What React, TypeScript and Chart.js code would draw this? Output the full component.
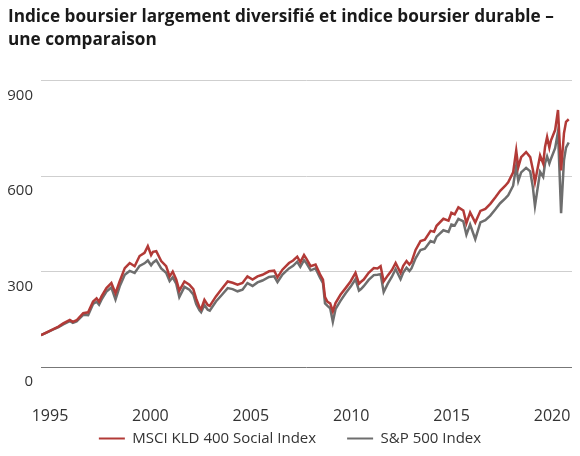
import React, { useEffect, useRef } from "react";
import Chart from "chart.js/auto";

// indexed to 100 at the start of 1995
const years = [
  1995.0, 1995.3, 1995.6, 1995.85, 1996.08, 1996.4, 1996.55, 1996.73, 1997.05, 1997.29,
  1997.53, 1997.7, 1997.82, 1997.94, 1998.18, 1998.42, 1998.62, 1998.82, 1999.07, 1999.31,
  1999.55, 1999.79, 2000.03, 2000.19, 2000.35, 2000.44, 2000.6, 2000.84, 2001.08, 2001.25,
  2001.4, 2001.57, 2001.72, 2001.97, 2002.21, 2002.4, 2002.54, 2002.7, 2002.78, 2002.94,
  2003.1, 2003.2, 2003.5, 2003.75, 2004.07, 2004.31, 2004.55, 2004.79, 2005.03, 2005.28,
  2005.52, 2005.76, 2006.08, 2006.33, 2006.49, 2006.73, 2007.05, 2007.25, 2007.45, 2007.6,
  2007.78, 2007.9, 2008.1, 2008.34, 2008.55, 2008.7, 2008.8, 2008.92, 2009.05, 2009.18,
  2009.31, 2009.55, 2009.8, 2010.04, 2010.28, 2010.45, 2010.55, 2010.68, 2010.92, 2011.17,
  2011.35, 2011.5, 2011.65, 2011.85, 2012.05, 2012.23, 2012.47, 2012.6, 2012.76, 2012.9,
  2013.0, 2013.2, 2013.44, 2013.65, 2013.93, 2014.1, 2014.22, 2014.55, 2014.8, 2014.94,
  2015.1, 2015.28, 2015.52, 2015.67, 2015.85, 2016.1, 2016.35, 2016.59, 2016.83, 2017.07,
  2017.31, 2017.56, 2017.7, 2017.94, 2018.09, 2018.19, 2018.33, 2018.57, 2018.77, 2018.9,
  2019.0, 2019.25, 2019.4, 2019.49, 2019.59, 2019.7, 2019.78, 2019.98, 2020.12, 2020.27,
  2020.41, 2020.51, 2020.64,
];

const msciKld400 = [
  100, 110, 119, 127, 137, 148, 142, 147, 169, 172,
  206, 216, 205, 222, 248, 264, 232, 269, 311, 327,
  317, 349, 359, 380, 352, 362, 364, 333, 317, 285,
  300, 275, 240, 269, 259, 245, 215, 188, 182, 211,
  195, 192, 222, 243, 269, 265, 259, 264, 285, 275,
  285, 290, 301, 303, 282, 306, 327, 335, 347, 330,
  352, 340, 317, 322, 292, 275, 220, 205, 200, 175,
  201, 227, 248, 269, 296, 262, 268, 275, 296, 311,
  310, 317, 269, 288, 305, 327, 296, 318, 333, 322,
  330, 368, 396, 400, 428, 425, 444, 466, 460, 485,
  480, 502, 492, 452, 486, 454, 491, 497, 513, 533,
  554, 570, 581, 612, 681, 628, 660, 676, 660, 620,
  581, 665, 640, 692, 723, 690, 713, 745, 808, 618,
  735, 771, 779,
];

const sp500 = [
  100, 109, 118, 125, 134, 144, 139, 143, 164, 163,
  198, 205, 196, 212, 237, 250, 212, 253, 290, 302,
  296, 318, 326, 335, 320, 328, 336, 310, 296, 270,
  282, 262, 220, 252, 243, 228, 198, 178, 172, 195,
  180, 177, 206, 224, 248, 245, 238, 243, 264, 255,
  266, 272, 283, 285, 267, 291, 310, 318, 331, 315,
  336, 326, 304, 310, 282, 264, 200, 192, 185, 142,
  182, 208, 232, 252, 276, 240, 245, 254, 274, 289,
  290, 292, 236, 262, 284, 308, 276, 297, 312, 302,
  310, 342, 368, 372, 396, 392, 410, 430, 425, 448,
  445, 466, 458, 416, 448, 402, 455, 462, 476, 495,
  515, 530, 540, 570, 632, 585, 612, 626, 615, 565,
  506, 614, 598, 640, 662, 640, 655, 688, 740, 484,
  650, 690, 706,
];

const tickYears = [1995, 2000, 2005, 2010, 2015, 2020];
const valueTicks = [0, 300, 600, 900];

const RED = "#b23a37";
const GRAY = "#6e6e6e";
const FONT = "'Open Sans', 'DejaVu Sans', sans-serif";

const App: React.FC = () => {
  const chartRef = useRef<HTMLCanvasElement | null>(null);
  const chartInstance = useRef<Chart | null>(null);

  useEffect(() => {
    if (!chartRef.current) return;
    const ctx = chartRef.current.getContext("2d");
    if (!ctx) return;

    chartInstance.current = new Chart(ctx, {
      type: "line",
      data: {
        datasets: [
          {
            label: "MSCI KLD 400 Social Index",
            data: years.map((x, i) => ({ x, y: msciKld400[i] })),
            borderColor: RED,
            backgroundColor: RED,
            borderWidth: 2.5,
            pointRadius: 0,
            xAxisID: "xData",
          },
          {
            label: "S&P 500 Index",
            data: years.map((x, i) => ({ x, y: sp500[i] })),
            borderColor: GRAY,
            backgroundColor: GRAY,
            borderWidth: 2.5,
            pointRadius: 0,
            xAxisID: "xData",
          },
        ],
      },
      options: {
        animation: false,
        responsive: true,
        maintainAspectRatio: false,
        layout: { padding: { left: 8, right: 8, top: 0, bottom: 0 } },
        scales: {
          // axis that only carries the year labels (mirrored so they are not clipped)
          x: {
            type: "linear",
            min: 1994.553,
            max: 2020.994,
            grid: { display: false, drawTicks: false },
            border: { display: false },
            afterBuildTicks: (axis: any) => {
              axis.ticks = tickYears.map((v) => ({ value: v }));
            },
            afterFit: (axis: any) => {
              axis.height = 33;
            },
            ticks: {
              mirror: true,
              padding: -59.5,
              autoSkip: false,
              maxRotation: 0,
              color: "#333",
              font: { family: FONT, size: 16 },
              callback: (v: any) => String(v),
            },
          },
          xData: {
            type: "linear",
            display: false,
            min: 1995,
            max: 2020.8,
          },
          y: {
            min: 0,
            max: 900,
            afterBuildTicks: (axis: any) => {
              axis.ticks = valueTicks.map((v) => ({ value: v }));
            },
            afterFit: (axis: any) => {
              axis.width = 33;
            },
            grid: {
              drawTicks: false,
              color: (c: any) => (c.tick && c.tick.value === 0 ? "#777" : "#cfcfcf"),
            },
            border: { display: false },
            ticks: {
              padding: 8,
              labelOffset: 15,
              color: "#333",
              font: { family: FONT, size: 15 },
            },
          },
        },
        plugins: {
          title: {
            display: true,
            text: [
              "Indice boursier largement diversifié et indice boursier durable –",
              "une comparaison",
            ],
            align: "start",
            color: "#1a1a1a",
            font: { family: FONT, size: 17.2, weight: "bold", lineHeight: 1.36 },
            padding: { top: 5, bottom: 29 },
          },
          legend: {
            position: "bottom",
            labels: {
              boxWidth: 26,
              boxHeight: 2,
              padding: 31,
              color: "#333",
              font: { family: FONT, size: 15 },
              generateLabels: (chart: any) =>
                Chart.defaults.plugins.legend.labels
                  .generateLabels(chart)
                  .map((l: any) => ({ ...l, lineWidth: 0, fillStyle: l.strokeStyle })),
            },
          },
          tooltip: { enabled: false },
        },
      },
    });

    return () => {
      if (chartInstance.current) {
        chartInstance.current.destroy();
        chartInstance.current = null;
      }
    };
  }, []);

  return (
    <div style={{ position: "fixed", left: 0, top: 0, width: 580, height: 456 }}>
      <canvas ref={chartRef} />
    </div>
  );
};

export default App;
